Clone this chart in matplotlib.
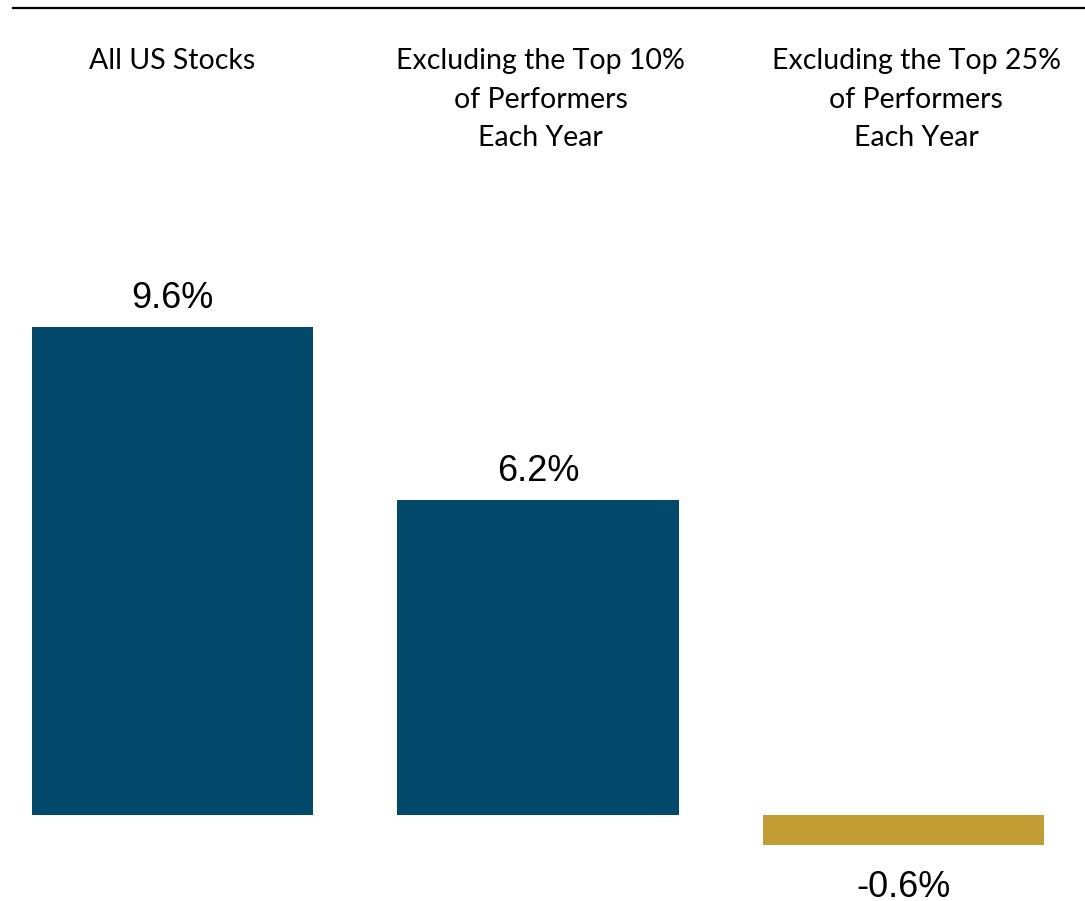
import matplotlib
matplotlib.use("Agg")
import matplotlib.pyplot as plt
from matplotlib.lines import Line2D

categories = ["All US Stocks",
              "Excluding the Top 10%\nof Performers\nEach Year",
              "Excluding the Top 25%\nof Performers\nEach Year"]
returns = [9.6, 6.2, -0.6]
value_labels = ["9.6%", "6.2%", "-0.6%"]

NAVY = "#02486B"
GOLD = "#C29D33"
colors = [NAVY if v >= 0 else GOLD for v in returns]

W, H = 1085, 901
fig = plt.figure(figsize=(W / 100, H / 100), dpi=100)
ax = fig.add_axes([0, 0, 1, 1])

x = list(range(len(returns)))
ax.bar(x, returns, width=0.769, color=colors)

# pixel geometry: bar spacing 365.5 px, zero line at 815 px, 50.8 px per point
ax.set_xlim(-172.5 / 365.5, (W - 172.5) / 365.5)
ax.set_ylim(-(H - 815) / 50.8, 815 / 50.8)
ax.axis("off")

for xi, v, lab in zip(x, returns, value_labels):
    if v >= 0:
        ax.annotate(lab, (xi, v), xytext=(0, 8), textcoords="offset points",
                    ha="center", va="bottom", fontsize=26,
                    family="Liberation Sans", color="black")
    else:
        ax.annotate(lab, (xi, v), xytext=(0, -18), textcoords="offset points",
                    ha="center", va="top", fontsize=26,
                    family="Liberation Sans", color="black")

# header labels sit slightly right of the bar centres (in points)
header_shift = [0, 2, 9]
for xi, cat, dx in zip(x, categories, header_shift):
    ax.annotate(cat, (xi, 1 - 48 / H), xycoords=ax.get_xaxis_transform(),
                xytext=(dx, 0), textcoords="offset points",
                ha="center", va="top", fontsize=20.5, family="Lato",
                linespacing=1.6, color="black")

# rule across the top
fig.add_artist(Line2D([13 / W, 1], [1 - 7.5 / H, 1 - 7.5 / H],
                      transform=fig.transFigure, color="black", lw=1.6))

fig.savefig("out.png", dpi=100)
